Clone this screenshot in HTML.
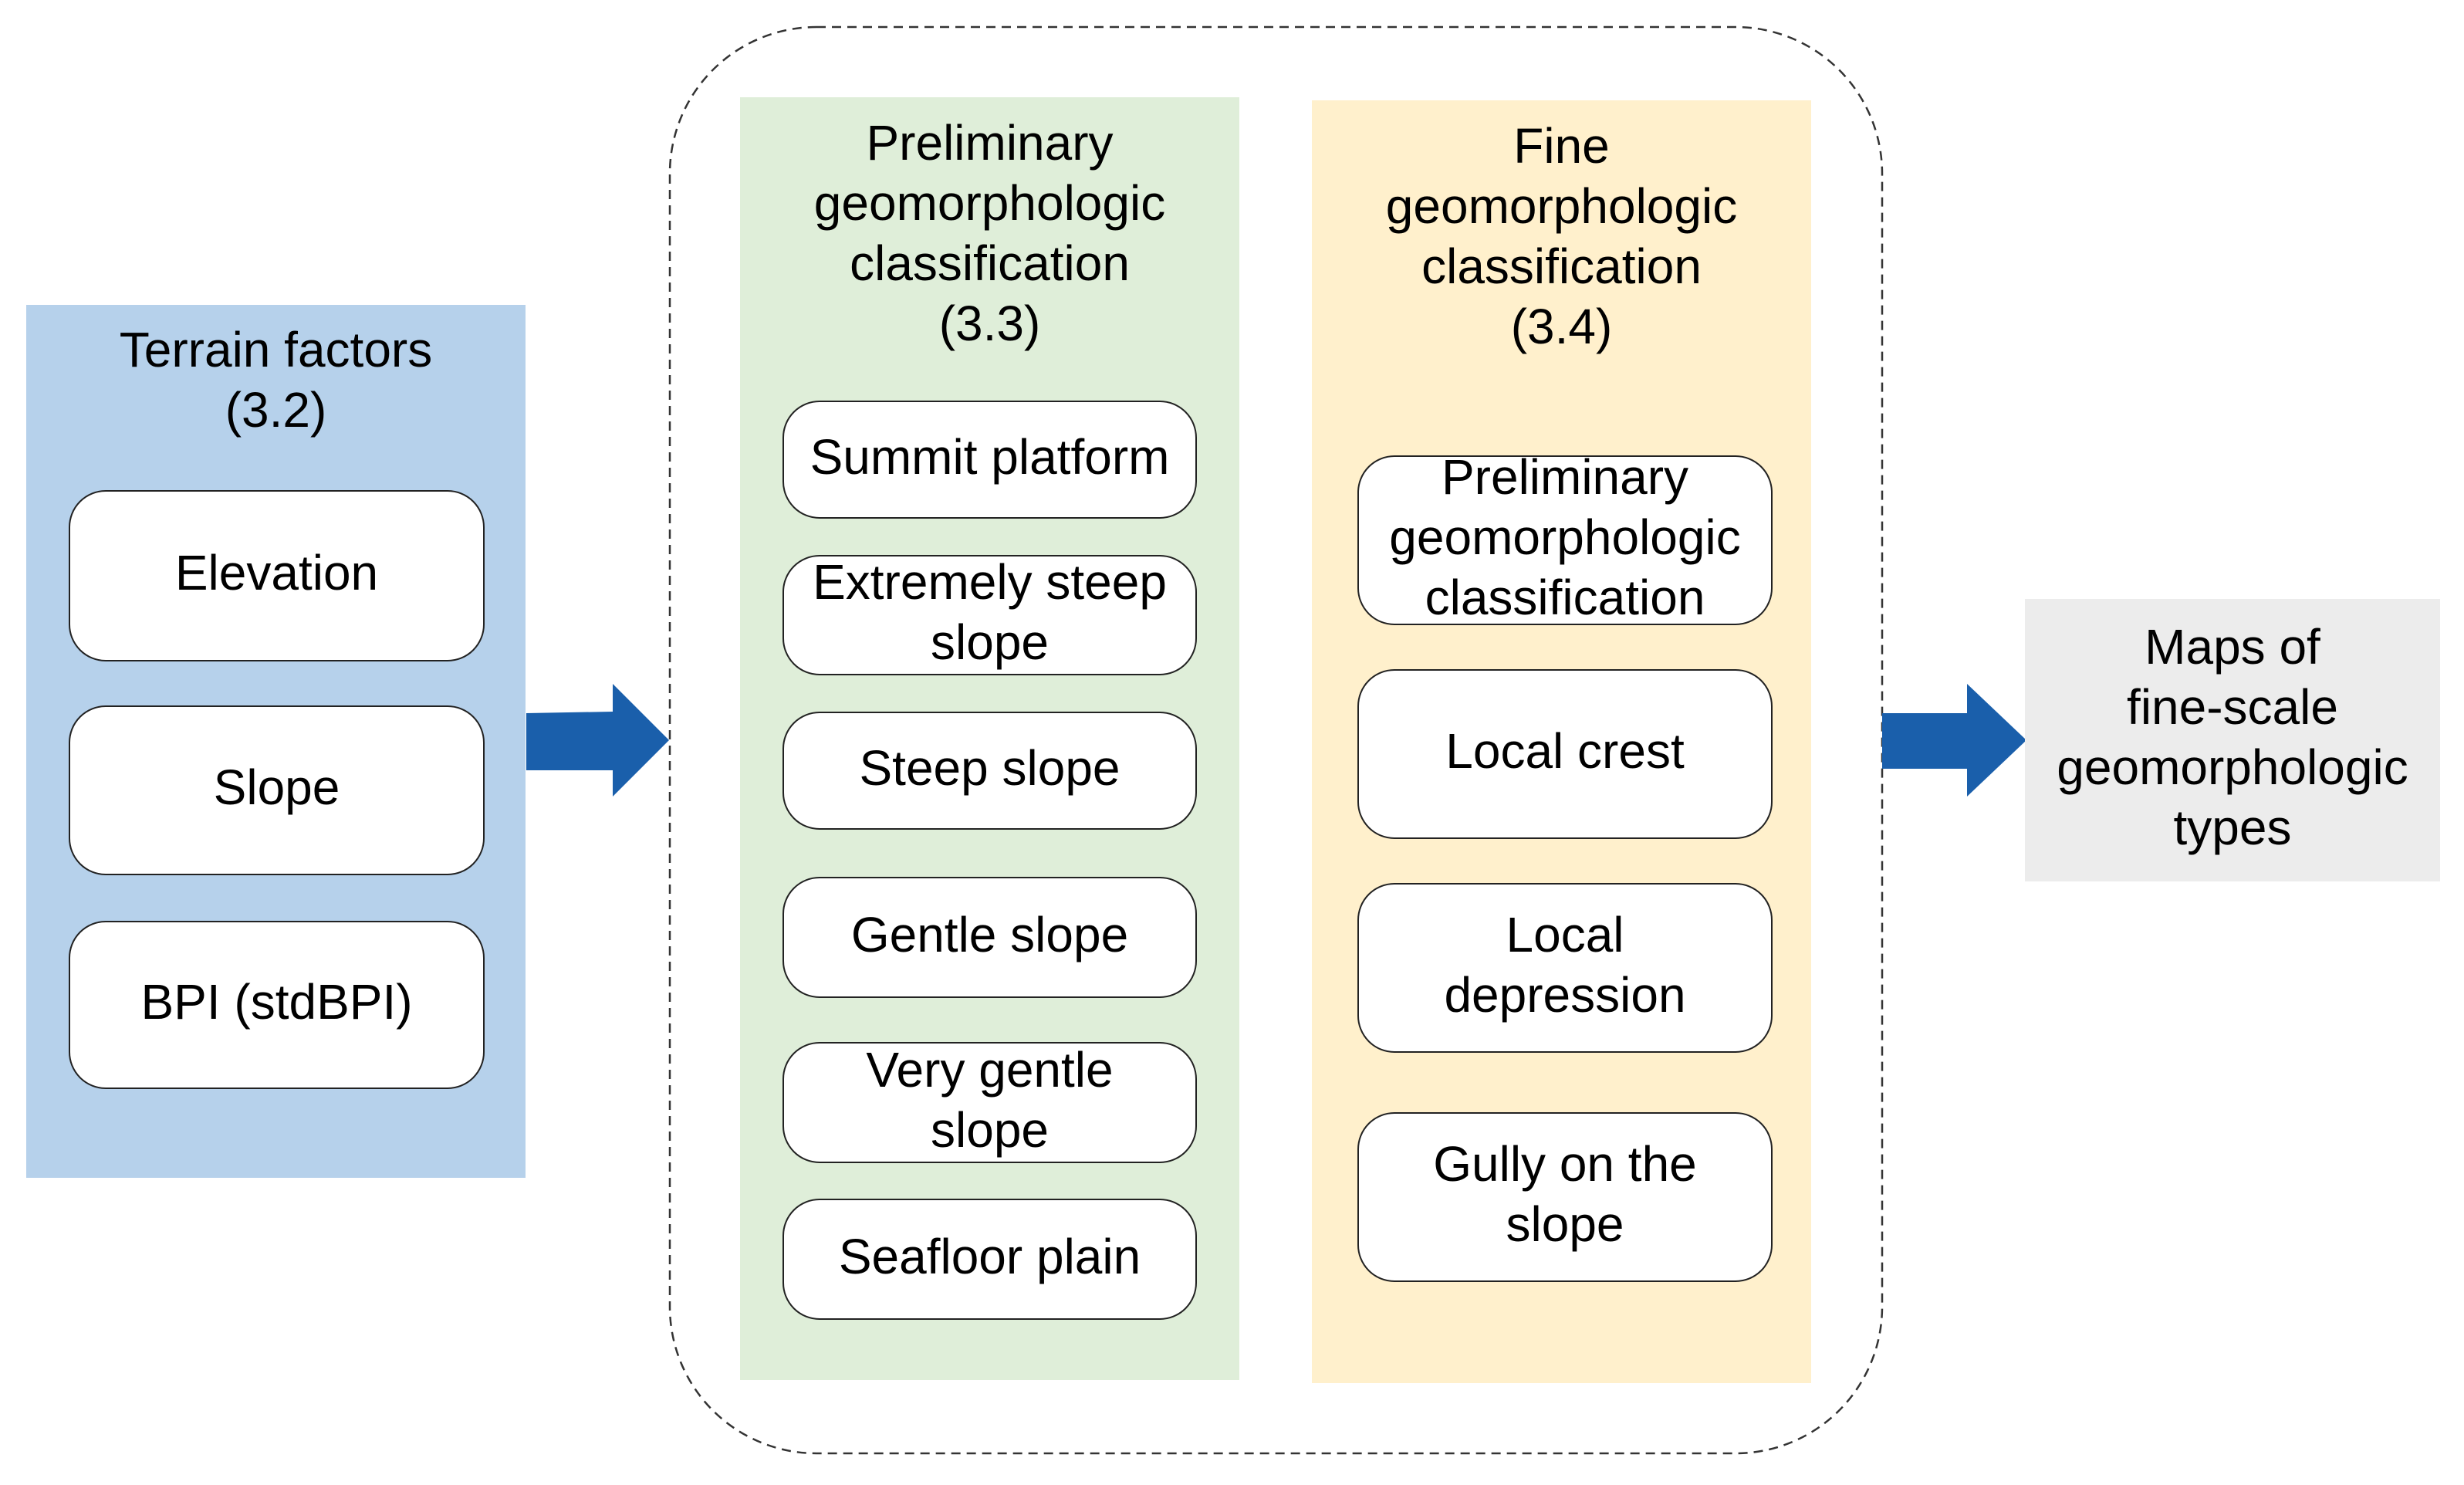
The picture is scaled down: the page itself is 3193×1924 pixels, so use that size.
<!DOCTYPE html>
<html><head><style>
body{margin:0;width:3193px;height:1924px;background:#fff;position:relative;overflow:hidden;font-family:"Liberation Sans",Arial,sans-serif;color:#000}
.a{position:absolute;box-sizing:border-box}
.t{position:absolute;text-align:center;font-size:64px;line-height:78px}
.b{position:absolute;box-sizing:border-box;background:#fff;border:2.5px solid #222;border-radius:48px;display:flex;align-items:center;justify-content:center;text-align:center;font-size:64px;line-height:78px;padding-bottom:8px}
</style></head><body>
<svg class="a" style="left:0;top:0" width="3193" height="1924">
<rect x="868" y="35" width="1571" height="1848" rx="190" ry="190" fill="none" stroke="#333" stroke-width="2.5" stroke-dasharray="12,8"/>
<polygon points="682,924 794,922 794,886 867,959 794,1032 794,998 682,998" fill="#1a5fab"/>
<polygon points="2439,924 2549,924 2549,886 2626,959 2549,1032 2549,996 2439,996" fill="#1a5fab"/>
</svg>
<div class="a" style="left:34px;top:395px;width:647px;height:1131px;background:#b6d1eb"></div>
<div class="t" style="left:34px;top:414px;width:647px">Terrain factors<br>(3.2)</div>
<div class="b" style="left:89px;top:635px;width:539px;height:222px">Elevation</div>
<div class="b" style="left:89px;top:914px;width:539px;height:220px">Slope</div>
<div class="b" style="left:89px;top:1193px;width:539px;height:218px">BPI (stdBPI)</div>

<div class="a" style="left:959px;top:126px;width:647px;height:1662px;background:#dfeed9"></div>
<div class="t" style="left:959px;top:146px;width:647px">Preliminary<br>geomorphologic<br>classification<br>(3.3)</div>
<div class="b" style="left:1014px;top:519px;width:537px;height:153px">Summit platform</div>
<div class="b" style="left:1014px;top:719px;width:537px;height:156px">Extremely steep<br>slope</div>
<div class="b" style="left:1014px;top:922px;width:537px;height:153px">Steep slope</div>
<div class="b" style="left:1014px;top:1136px;width:537px;height:157px">Gentle slope</div>
<div class="b" style="left:1014px;top:1350px;width:537px;height:157px">Very gentle<br>slope</div>
<div class="b" style="left:1014px;top:1553px;width:537px;height:157px">Seafloor plain</div>

<div class="a" style="left:1700px;top:130px;width:647px;height:1662px;background:#fff0cc"></div>
<div class="t" style="left:1700px;top:150px;width:647px">Fine<br>geomorphologic<br>classification<br>(3.4)</div>
<div class="b" style="left:1759px;top:590px;width:538px;height:220px">Preliminary<br>geomorphologic<br>classification</div>
<div class="b" style="left:1759px;top:867px;width:538px;height:220px">Local crest</div>
<div class="b" style="left:1759px;top:1144px;width:538px;height:220px">Local<br>depression</div>
<div class="b" style="left:1759px;top:1441px;width:538px;height:220px">Gully on the<br>slope</div>

<div class="a" style="left:2624px;top:776px;width:538px;height:366px;background:#ececec;display:flex;align-items:center;justify-content:center;text-align:center;font-size:64px;line-height:78px;padding-bottom:8px">Maps of<br>fine-scale<br>geomorphologic<br>types</div>
</body></html>
